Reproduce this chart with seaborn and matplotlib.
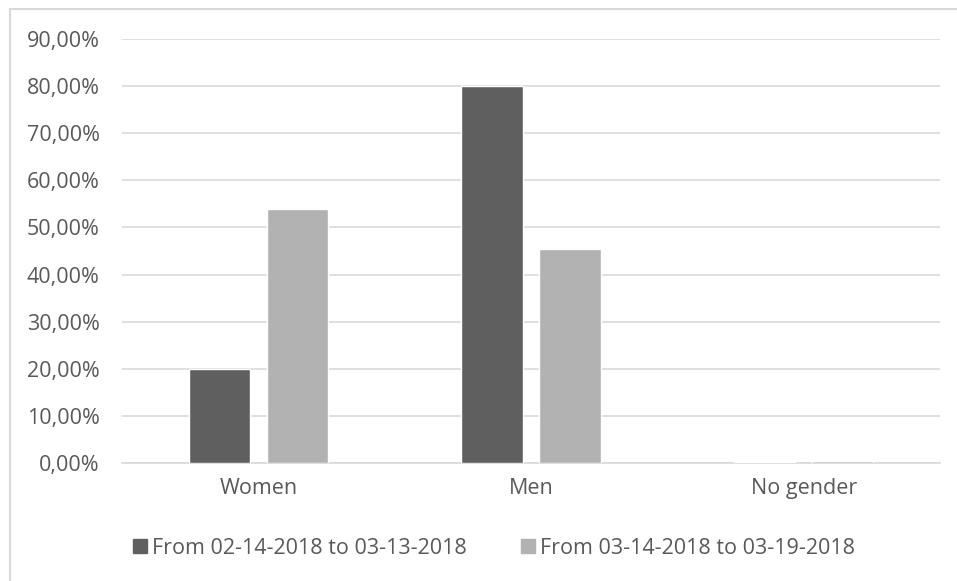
import matplotlib
matplotlib.use("Agg")
import matplotlib.pyplot as plt
import matplotlib.patches as mpatches
import seaborn as sns
import pandas as pd
from matplotlib.ticker import FuncFormatter

categories = ["Women", "Men", "No gender"]
series_names = ["From 02-14-2018 to 03-13-2018", "From 03-14-2018 to 03-19-2018"]
period1 = [0.20, 0.80, 0.002]
period2 = [0.539, 0.454, 0.005]
y_ticks = [0.0, 0.1, 0.2, 0.3, 0.4, 0.5, 0.6, 0.7, 0.8, 0.9]

df = pd.DataFrame({
    "category": categories * 2,
    "series": [series_names[0]] * 3 + [series_names[1]] * 3,
    "value": period1 + period2,
})

sns.set_theme(style="white")
plt.rcParams["font.family"] = ["Open Sans", "DejaVu Sans"]

text_color = "#595959"
grid_color = "#d9d9d9"
palette = {series_names[0]: "#5f5f5f", series_names[1]: "#b2b2b2"}

fig = plt.figure(figsize=(9.57, 5.81), dpi=100)
ax = fig.add_axes([122 / 957, 1 - 463 / 581, (940 - 122) / 957, (463 - 39) / 581])

sns.barplot(data=df, x="category", y="value", hue="series", order=categories,
            hue_order=series_names, palette=palette, width=0.572, gap=0.217,
            saturation=1, ax=ax, legend=False, zorder=3)

ax.set_ylim(0, 0.9)
ax.set_xlim(-0.5, 2.5)
ax.set_yticks(y_ticks)
ax.yaxis.set_major_formatter(FuncFormatter(lambda v, p: f"{v * 100:.2f}%".replace(".", ",")))
ax.grid(axis="y", color=grid_color, linewidth=1.2, zorder=0)
ax.set_axisbelow(True)
for side in ["top", "right", "left"]:
    ax.spines[side].set_visible(False)
ax.spines["bottom"].set_color(grid_color)
ax.spines["bottom"].set_linewidth(1.2)
ax.tick_params(axis="both", length=0, colors=text_color)
ax.tick_params(axis="y", labelsize=15.5, pad=16)
ax.tick_params(axis="x", labelsize=15.5, pad=11)
ax.set_xlabel("")
ax.set_ylabel("")

# chart frame (left and top edges)
fig.add_artist(plt.Line2D([10 / 957, 10 / 957], [0, 1 - 9 / 581], transform=fig.transFigure,
                          color=grid_color, linewidth=1.5))
fig.add_artist(plt.Line2D([10 / 957, 1], [1 - 9 / 581, 1 - 9 / 581], transform=fig.transFigure,
                          color=grid_color, linewidth=1.5))

handles = [mpatches.Patch(color=palette[s], label=s) for s in series_names]
fig.legend(handles=handles, loc="center", bbox_to_anchor=(0.516, 1 - 548 / 581), ncol=2,
           frameon=False, fontsize=15.5, labelcolor=text_color, handlelength=0.65,
           handleheight=0.65, handletextpad=0.25, columnspacing=2.5)

fig.savefig("out.png", dpi=100)
